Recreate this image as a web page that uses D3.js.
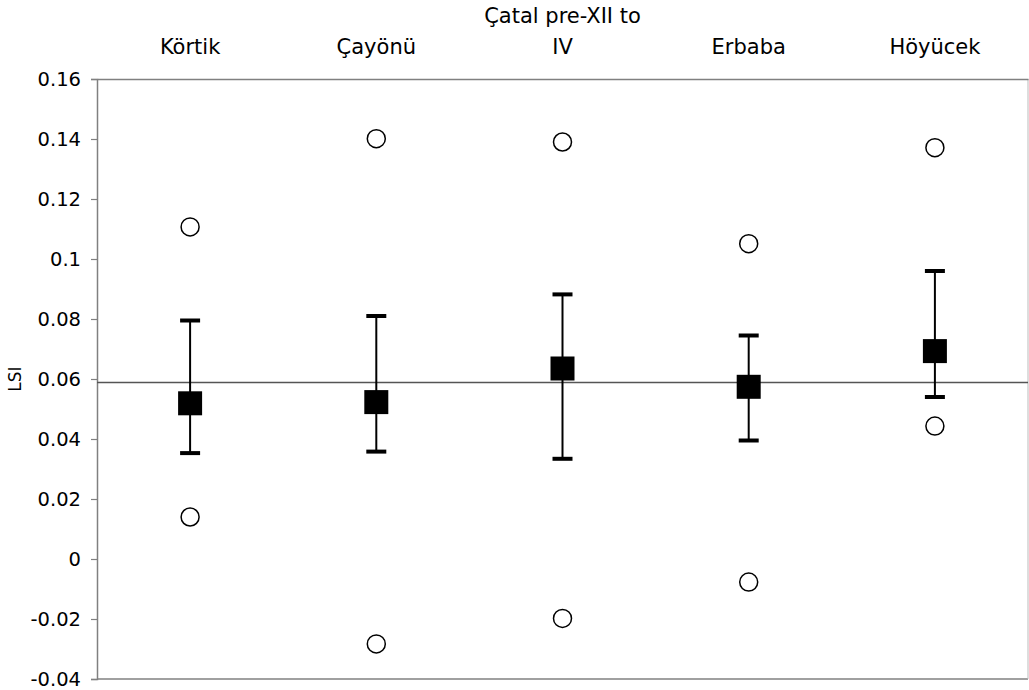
<!DOCTYPE html>
<html>
<head>
<meta charset="utf-8">
<script src="https://cdn.jsdelivr.net/npm/d3@7"></script>
<style>
  html, body { margin: 0; padding: 0; background: #fff; }
  svg { display: block; }
  text { font-family: "DejaVu Sans", Verdana, sans-serif; fill: #000; }
</style>
</head>
<body>
<svg id="chart" width="1029" height="690"></svg>
<script>
// ---- data ----
const categories = ["Körtik", "Çayönü", "Çatal pre-XII to IV", "Erbaba", "Höyücek"];
const categoryLines = [["Körtik"], ["Çayönü"], ["Çatal pre-XII to", "IV"], ["Erbaba"], ["Höyücek"]];
const means      = [0.0519, 0.0523, 0.0635, 0.0574, 0.0693];
const upperBar   = [0.0795, 0.0810, 0.0882, 0.0745, 0.0960];
const lowerBar   = [0.0353, 0.0358, 0.0334, 0.0395, 0.0540];
const highPoints = [0.1107, 0.1401, 0.1390, 0.1051, 0.1371];
const lowPoints  = [0.0140, -0.0283, -0.0198, -0.0077, 0.0443];
const referenceValue = 0.0588;
const yTickValues = [0.16, 0.14, 0.12, 0.1, 0.08, 0.06, 0.04, 0.02, 0, -0.02, -0.04];
const yTickLabels = ["0.16", "0.14", "0.12", "0.1", "0.08", "0.06", "0.04", "0.02", "0", "-0.02", "-0.04"];
const yTitle = "LSI";

(function () {
// ---- layout ----
const svg = d3.select("#chart");
const mLeft = 97, mRight = 1028, mTop = 79, mBottom = 679;

const x = d3.scaleBand().domain(categories).range([mLeft, mRight]).padding(0);
const y = d3.scaleLinear().domain([-0.04, 0.16]).range([mBottom, mTop]);

const axisColor = "#808080";

// frame: bottom + right
svg.append("line").attr("x1", mLeft).attr("x2", mRight).attr("y1", mBottom).attr("y2", mBottom)
  .attr("stroke", axisColor).attr("stroke-width", 1.5);
svg.append("line").attr("x1", mRight).attr("x2", mRight).attr("y1", mTop).attr("y2", mBottom)
  .attr("stroke", "#bbb").attr("stroke-width", 1);

// top axis (category labels)
const xAxis = svg.append("g").attr("transform", `translate(0,${mTop})`)
  .call(d3.axisTop(x).tickSize(0).tickFormat(""));
xAxis.select(".domain").attr("stroke", axisColor).attr("stroke-width", 1.5);
xAxis.selectAll(".tick").each(function(d, i) {
  const lines = categoryLines[i];
  const t = d3.select(this).append("text")
    .attr("text-anchor", "middle")
    .attr("fill", "#000")
    .style("font-size", "21px")
    .style("font-family", "'DejaVu Sans', Verdana, sans-serif");
  const n = lines.length;
  lines.forEach((ln, j) => {
    t.append("tspan").attr("x", 0)
      .attr("y", -25 - (n - 1 - j) * 31)
      .text(ln);
  });
});

// left axis
const yAxis = svg.append("g").attr("transform", `translate(${mLeft},0)`)
  .call(d3.axisLeft(y).tickValues(yTickValues).tickSize(6).tickPadding(10)
    .tickFormat((d, i) => yTickLabels[i]));
yAxis.select(".domain").attr("stroke", axisColor).attr("stroke-width", 1.5);
yAxis.selectAll(".tick line").attr("stroke", axisColor).attr("stroke-width", 1.2);
yAxis.selectAll(".tick text")
  .style("font-size", "19.5px")
  .style("font-family", "'DejaVu Sans', Verdana, sans-serif")
  .attr("fill", "#000");

// y title
svg.append("text")
  .attr("transform", `translate(15,${y(0.06)}) rotate(-90)`)
  .attr("text-anchor", "middle")
  .attr("dy", "0.35em")
  .style("font-size", "17px")
  .text(yTitle);

// reference line
svg.append("line")
  .attr("x1", mLeft).attr("x2", mRight)
  .attr("y1", y(referenceValue)).attr("y2", y(referenceValue))
  .attr("stroke", "#555").attr("stroke-width", 1.5);

const cx = i => x(categories[i]) + x.bandwidth() / 2;
const g = svg.append("g");

// error bars
categories.forEach((c, i) => {
  g.append("line")
    .attr("x1", cx(i)).attr("x2", cx(i))
    .attr("y1", y(upperBar[i])).attr("y2", y(lowerBar[i]))
    .attr("stroke", "#000").attr("stroke-width", 2);
  [upperBar[i], lowerBar[i]].forEach(v => {
    g.append("line")
      .attr("x1", cx(i) - 10).attr("x2", cx(i) + 10)
      .attr("y1", y(v)).attr("y2", y(v))
      .attr("stroke", "#000").attr("stroke-width", 4);
  });
});

// mean squares
const sq = 24;
g.selectAll("rect.mean").data(means).join("rect")
  .attr("class", "mean")
  .attr("x", (d, i) => cx(i) - sq / 2)
  .attr("y", d => y(d) - sq / 2)
  .attr("width", sq).attr("height", sq)
  .attr("fill", "#000");

// open circles
g.selectAll("circle.hi").data(highPoints).join("circle")
  .attr("class", "hi")
  .attr("cx", (d, i) => cx(i)).attr("cy", d => y(d)).attr("r", 9)
  .attr("fill", "#fff").attr("stroke", "#000").attr("stroke-width", 1.5);
g.selectAll("circle.lo").data(lowPoints).join("circle")
  .attr("class", "lo")
  .attr("cx", (d, i) => cx(i)).attr("cy", d => y(d)).attr("r", 9)
  .attr("fill", "#fff").attr("stroke", "#000").attr("stroke-width", 1.5);
})();
</script>
</body>
</html>
